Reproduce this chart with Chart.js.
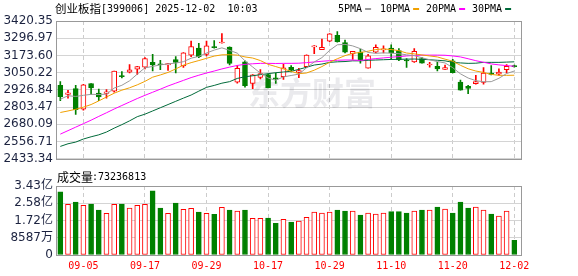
<!DOCTYPE html>
<html>
<head>
<meta charset="utf-8">
<script src="https://cdn.jsdelivr.net/npm/chart.js@4.4.1/dist/chart.umd.min.js"></script>
<style>
  html, body { margin: 0; padding: 0; background: #fff; }
  #wrap { position: relative; width: 578px; height: 276px; overflow: hidden; }
  canvas { position: absolute; left: 0; }
</style>
</head>
<body>
<div id="wrap">
  <canvas id="kline" width="578" height="170" style="top:0"></canvas>
  <canvas id="vol" width="578" height="106" style="top:170px"></canvas>
</div>
<script>
// 交易日
const dates = ['09-02','09-03','09-04','09-05','09-08','09-09','09-10','09-11','09-12','09-15',
  '09-16','09-17','09-18','09-19','09-22','09-23','09-24','09-25','09-26','09-29',
  '09-30','10-09','10-10','10-13','10-14','10-15','10-16','10-17','10-20','10-21',
  '10-22','10-23','10-24','10-27','10-28','10-29','10-30','10-31','11-03','11-04',
  '11-05','11-06','11-07','11-10','11-11','11-12','11-13','11-14','11-17','11-18',
  '11-19','11-20','11-21','11-24','11-25','11-26','11-27','11-28','12-01','12-02'];
const xTicks = ['09-05','09-17','09-29','10-17','10-29','11-10','11-20','12-02'];

// K线 (开 高 低 收)
const openP = [2959,2895,2937,2788,2973,2904,2902,2918,3030,3053,3076,3089,3124,3113,3105,3144,3098,3175,3226,3181,
  3237,3263,3233,2982,3128,2973,3016,3037,3014,3021,3089,3052,3094,3235,3215,3276,3318,3266,3185,3197,
  3082,3197,3213,3226,3209,3141,3128,3151,3105,3096,3074,3135,2982,2952,2971,2980,3048,3039,3072,3100];
const highP = [2986,2923,2959,2966,2973,2932,2930,3062,3058,3108,3096,3158,3181,3139,3117,3165,3194,3276,3261,3276,
  3281,3331,3235,3101,3135,3037,3072,3041,3048,3112,3101,3081,3178,3244,3290,3331,3345,3283,3204,3220,
  3181,3249,3242,3249,3222,3151,3222,3158,3124,3124,3105,3146,2998,2959,3032,3086,3101,3078,3108,3105];
const lowP = [2849,2868,2751,2781,2894,2849,2868,2911,3012,3048,3037,3078,3062,3071,3067,3048,3087,3165,3158,3170,
  3226,3261,3105,2975,2947,2935,3006,2941,2973,3002,3055,3014,3089,3187,3215,3272,3269,3192,3146,3119,
  3082,3192,3192,3146,3137,3087,3124,3119,3089,3062,3074,3048,2925,2900,2968,2968,3035,3032,3048,3089];
const closeP = [2879,2906,2786,2964,2941,2877,2913,3062,3022,3071,3094,3151,3105,3107,3115,3124,3192,3238,3165,3242,
  3229,3270,3117,3082,2957,3035,3043,2941,3004,3085,3069,3066,3176,3242,3231,3329,3272,3197,3204,3142,
  3170,3231,3216,3192,3142,3134,3204,3119,3108,3078,3087,3050,2925,2937,2987,3048,3038,3055,3096,3093];

// 均线
const ma5 = [2860,2885,2880,2888,2895,2894,2896,2940,2960,2992,3040,3085,3095,3106,3113,3119,3129,3154,3167,3191,
  3212,3228,3210,3190,3135,3091,3047,3012,2996,3020,3030,3040,3085,3127,3158,3210,3250,3253,3242,3222,
  3195,3189,3192,3190,3186,3178,3172,3157,3143,3130,3120,3086,3042,3012,2993,2985,2986,3010,3044,3062];
const ma10 = [2765,2776,2788,2803,2822,2848,2876,2903,2925,2942,2963,2988,3018,3034,3052,3077,3104,3122,3137,3153,
  3169,3178,3179,3176,3163,3155,3137,3110,3094,3077,3060,3043,3048,3068,3094,3125,3150,3172,3189,3195,
  3204,3216,3220,3216,3208,3191,3185,3177,3170,3163,3147,3132,3103,3078,3062,3052,3038,3031,3031,3032];
const ma20 = [2610,2635,2660,2685,2710,2737,2763,2790,2815,2840,2865,2888,2910,2932,2955,2975,2995,3015,3032,3048,
  3062,3077,3090,3102,3110,3114,3117,3117,3116,3117,3117,3118,3122,3127,3132,3136,3139,3141,3141,3138,
  3145,3151,3156,3161,3165,3170,3174,3176,3176,3176,3175,3170,3163,3150,3136,3125,3113,3106,3101,3096];
const ma30 = [2522,2541,2553,2575,2591,2605,2625,2653,2678,2705,2735,2753,2776,2799,2822,2845,2868,2890,2918,2945,
  2959,2975,2986,3009,3021,3028,3036,3043,3050,3055,3060,3074,3089,3105,3112,3124,3128,3130,3135,3135,
  3139,3141,3143,3145,3146,3147,3148,3146,3143,3139,3135,3124,3120,3117,3118,3124,3124,3124,3126,3128];

// 成交量 (亿)
const volume = [3.14,2.52,2.64,2.47,2.54,2.24,2.07,2.52,2.54,2.34,2.47,2.52,3.19,2.34,2.07,2.59,2.27,2.32,2.14,2.07,
  2.02,2.37,2.24,2.19,2.24,1.83,1.83,1.84,1.58,1.78,1.64,1.69,1.88,2.14,2.09,2.14,2.24,2.19,2.19,1.99,
  2.09,2.04,2.09,2.16,2.16,2.09,2.19,2.24,2.24,2.39,2.29,2.09,2.64,2.34,2.39,2.24,2.04,1.94,2.19,0.7324];
const lastVolume = 73236813;

const priceTicks = [2433.34,2556.71,2680.09,2803.47,2926.84,3050.22,3173.60,3296.97,3420.35];
const volTicks = [0, 0.8587, 1.7174, 2.5761, 3.4348];
const volTickLabels = ['0','8587万','1.72亿','2.58亿','3.43亿'];

const maNames = ['5PMA','10PMA','20PMA','30PMA'];
const maColors = ['#999999','#f0a000','#ff00ff','#006a3a'];

const RED = '#ff0000', GREEN = '#008000';
const isUp = closeP.map((c, i) => c >= openP[i]);
const tickIdx = xTicks.map(t => dates.indexOf(t));

function xScale(showLabels) {
  return {
    type: 'linear', min: -0.43, max: 60.0, offset: false,
    afterBuildTicks: ax => { ax.ticks = tickIdx.map(v => ({ value: v })); },
    grid: { color: '#cccccc', drawTicks: false, offset: false },
    border: { display: false, dash: [4, 3] },
    ticks: {
      display: showLabels, padding: 5, color: RED, autoSkip: false, maxRotation: 0,
      font: { family: "'DejaVu Sans Mono'", size: 10 },
      callback: v => dates[v]
    },
    afterFit: ax => { ax.height = showLabels ? 21 : 0; }
  };
}

const framePlugin = {
  id: 'frame',
  afterDraw(chart) {
    const { ctx, chartArea: a } = chart;
    ctx.save();
    ctx.strokeStyle = '#999999';
    ctx.lineWidth = 1;
    ctx.strokeRect(Math.round(a.left) - 0.5, Math.round(a.top) + 0.5,
      Math.round(a.right - a.left), Math.round(a.bottom - a.top));
    ctx.restore();
  }
};

const headPlugin = {
  id: 'head',
  beforeDatasetsDraw(chart) {
    // 水印
    const ctx = chart.ctx;
    ctx.save();
    ctx.fillStyle = 'rgba(20,20,60,0.09)';
    ctx.font = "bold 32px 'Noto Sans CJK SC'";
    ctx.textBaseline = 'middle';
    ctx.fillText('东方财富', 248, 93);
    ctx.restore();
  },
  afterDraw(chart) {
    const ctx = chart.ctx;
    ctx.save();
    ctx.textBaseline = 'middle';
    ctx.fillStyle = '#000';
    ctx.font = "11.5px 'Noto Sans CJK SC'";
    ctx.fillText('创业板指', 55, 9);
    ctx.font = "10px 'DejaVu Sans Mono'";
    ctx.fillText('[399006] 2025-12-02  10:03', 101, 9);
    // 图例
    const legX = [338, 380, 426, 472];
    maNames.forEach((n, i) => {
      ctx.fillStyle = '#000';
      ctx.fillText(n, legX[i], 9);
      const w = ctx.measureText(n).width;
      ctx.fillStyle = maColors[i];
      ctx.fillRect(legX[i] + w + 3, 8, 6, 2);
    });
    ctx.restore();
  }
};

const volHeadPlugin = {
  id: 'volHead',
  afterDraw(chart) {
    const ctx = chart.ctx;
    ctx.save();
    ctx.textBaseline = 'middle';
    ctx.fillStyle = '#000';
    ctx.font = "12px 'Noto Sans CJK SC'";
    ctx.fillText('成交量', 57, 7);
    ctx.font = "10px 'DejaVu Sans Mono'";
    ctx.fillText(':' + lastVolume, 92, 7);
    ctx.restore();
  }
};

const yFont = { family: "'DejaVu Sans', 'Noto Sans CJK SC'", size: 12 };

const lineSets = [ma5, ma10, ma20, ma30].map((arr, k) => ({
  type: 'line', label: maNames[k], order: 0,
  data: arr.map((v, i) => ({ x: i, y: v })),
  borderColor: maColors[k], borderWidth: 1, pointRadius: 0, tension: 0
}));

new Chart(document.getElementById('kline'), {
  type: 'bar',
  data: {
    datasets: [
      ...lineSets,
      {
        label: 'body', order: 1, grouped: false,
        data: openP.map((o, i) => ({ x: i, y: [o, closeP[i]] })),
        backgroundColor: isUp.map(u => u ? '#ffffff' : GREEN),
        borderColor: isUp.map(u => u ? RED : GREEN),
        borderWidth: 1, borderSkipped: false, barThickness: 5, minBarLength: 1
      },
      {
        label: 'wick', order: 2, grouped: false,
        data: lowP.map((l, i) => ({ x: i, y: [l, highP[i]] })),
        backgroundColor: isUp.map(u => u ? RED : GREEN),
        borderWidth: 0, barThickness: 1
      }
    ]
  },
  options: {
    responsive: false, animation: false,
    layout: { padding: { left: 0, right: 56, top: 21, bottom: 5 } },
    plugins: { legend: { display: false }, tooltip: { enabled: false } },
    scales: {
      x: xScale(false),
      y: {
        min: 2433.34, max: 3420.35,
        afterBuildTicks: ax => { ax.ticks = priceTicks.map(v => ({ value: v })); },
        grid: { color: '#d4d4d4', drawTicks: false },
        border: { display: false },
        ticks: { padding: 4, color: '#1c2340', font: yFont, autoSkip: false, callback: v => v.toFixed(2) },
        afterFit: ax => { ax.width = 57; }
      }
    }
  },
  plugins: [headPlugin, framePlugin]
});

new Chart(document.getElementById('vol'), {
  type: 'bar',
  data: {
    datasets: [{
      label: '成交量', grouped: false,
      data: volume.map((v, i) => ({ x: i, y: v })),
      backgroundColor: isUp.map(u => u ? '#ffffff' : GREEN),
      borderColor: isUp.map(u => u ? RED : GREEN),
      borderWidth: 1, borderSkipped: false, barThickness: 5
    }]
  },
  options: {
    responsive: false, animation: false,
    layout: { padding: { left: 0, right: 56, top: 16, bottom: 0 } },
    plugins: { legend: { display: false }, tooltip: { enabled: false } },
    scales: {
      x: xScale(true),
      y: {
        min: 0, max: 3.4348,
        afterBuildTicks: ax => { ax.ticks = volTicks.map(v => ({ value: v })); },
        grid: { color: '#d4d4d4', drawTicks: false },
        border: { display: false },
        ticks: { padding: 4, color: '#1c2340', font: yFont, autoSkip: false,
          callback: v => volTickLabels[volTicks.indexOf(v)] },
        afterFit: ax => { ax.width = 57; }
      }
    }
  },
  plugins: [volHeadPlugin, framePlugin]
});
</script>
</body>
</html>
